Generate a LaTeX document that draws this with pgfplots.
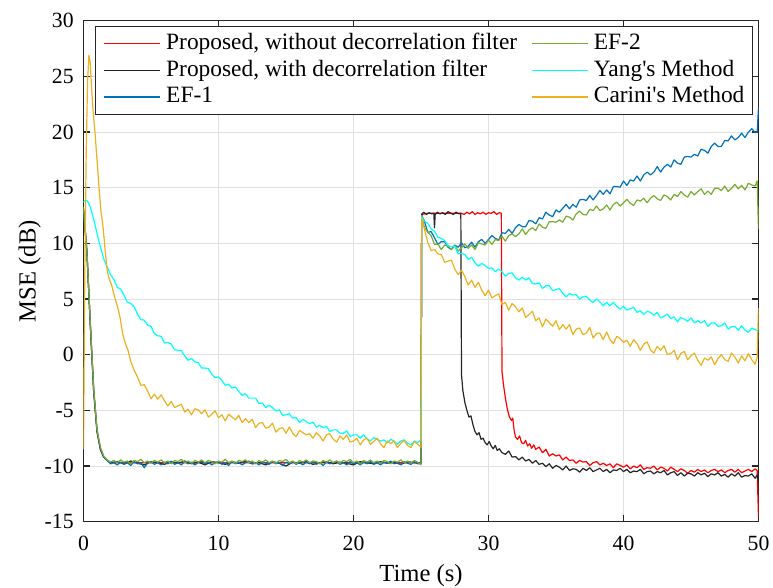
\documentclass[border=0pt]{standalone}
\usepackage{fontspec}
\setmainfont{Liberation Serif}
\usepackage{pgfplots}
\pgfplotsset{compat=1.18}
\definecolor{cred}{RGB}{255,0,0}
\definecolor{cblack}{RGB}{38,38,38}
\definecolor{cblue}{RGB}{0,114,189}
\definecolor{cgreen}{RGB}{119,172,48}
\definecolor{ccyan}{RGB}{0,255,255}
\definecolor{cyel}{RGB}{237,177,32}
\definecolor{axc}{RGB}{38,38,38}
\begin{document}
\begin{tikzpicture}
\begin{axis}[
  scale only axis, width=337.5pt, height=250.5pt,
  xmin=0, xmax=50, ymin=-15, ymax=30,
  xtick={0,10,...,50}, ytick={-15,-10,...,30},
  grid=major, grid style={black!12, line width=0.5pt},
  axis line style={axc, line width=0.6pt},
  tick align=inside, major tick length=3.4pt,
  tick style={axc, line width=0.6pt},
  xticklabel style={yshift=-3.5pt},
  yticklabel style={xshift=-1.4pt},
  /pgf/number format/assume math mode=true,
  tick label style={font=\fontsize{10.85}{13}\selectfont},
  label style={font=\fontsize{12.3}{14}\selectfont},
  xlabel={Time (s)}, ylabel={MSE (dB)},
  ylabel style={yshift=-5pt},
  every axis plot/.append style={line width=0.6pt, line join=round},
  legend columns=2,
  legend image code/.code={\draw[#1, line width=0.6pt] (0pt,0pt) -- (28pt,0pt);},
  legend style={at={(rel axis cs:1,1)}, anchor=north east, xshift=-2.9pt, yshift=-2.65pt,
    draw=axc, line width=0.5pt, fill=white, inner xsep=3.9pt, inner ysep=2pt,
    font=\fontsize{11.7}{14}\selectfont,
    nodes={inner xsep=0pt, inner ysep=1.2pt, text height=8.3pt, text depth=2.6pt, anchor=west},
    /tikz/every odd column/.append style={column sep=2.8pt},
    /tikz/every even column/.append style={column sep=7pt}},
]
% Proposed, without decorrelation filter
\addplot[cred, forget plot] coordinates {(0,13.0) (0.25,9.3) (0.5,2.8) (0.75,-3.2) (1.0,-6.9) (1.25,-8.5) (1.5,-9.2) (1.75,-9.5) (2,-9.7) (25,-9.7)
(25.05,12.6) (25.5,12.7) (26,12.7) (27,12.7) (27.9,12.7)
(28.0,12.7) (28.2,12.6) (28.4,12.8) (28.6,12.65) (28.8,12.85) (29.0,12.6) (29.2,12.75) (29.4,12.65) (29.6,12.8) (29.8,12.6) (30.0,12.75) (30.2,12.7) (30.4,12.85) (30.6,12.6) (30.8,12.75) (30.95,12.7)
(31.0,-1.5) (31.1,-2.6) (31.25,-3.9) (31.4,-4.9) (31.55,-5.6) (31.7,-5.9) (31.8,-5.7) (31.9,-6.8) (32.0,-7.4) (32.15,-7.6) (32.3,-7.3) (32.45,-7.9) (32.6,-8.0) (32.75,-7.7) (32.9,-8.2) (33.05,-8.0) (33.2,-8.4) (33.35,-8.1) (33.5,-8.5) (33.75,-8.3) (34.0,-8.8) (34.25,-8.5) (34.5,-9.1) (34.75,-8.9) (35.0,-9.1) (35.25,-9.0) (35.5,-9.45) (35.75,-9.2) (36.0,-9.5) (36.25,-9.45) (36.5,-9.75) (36.75,-9.5) (37.0,-9.65) (37.25,-9.6) (37.5,-9.95) (37.75,-9.7) (38.0,-9.6) (38.25,-9.9) (38.5,-9.75) (38.75,-9.95) (39.0,-9.8) (39.25,-10.15) (39.5,-9.8) (39.75,-9.95) (40.0,-10.1) (40.25,-9.9) (40.5,-10.25) (40.75,-10.0) (41.0,-10.15) (41.25,-9.9) (41.5,-10.3) (41.75,-10.15) (42.0,-10.2) (42.25,-10.0) (42.5,-10.35) (42.75,-10.1) (43.0,-10.2) (43.25,-10.45) (43.5,-10.1) (43.75,-10.3) (44.0,-10.5) (44.25,-10.25) (44.5,-10.4) (44.75,-10.65) (45.0,-10.4) (45.25,-10.55) (45.5,-10.3) (45.75,-10.5) (46.0,-10.35) (46.25,-10.6) (46.5,-10.4) (46.75,-10.3) (47.0,-10.5) (47.25,-10.35) (47.5,-10.6) (47.75,-10.4) (48.0,-10.3) (48.25,-10.55) (48.5,-10.3) (48.75,-10.6) (49.0,-10.45) (49.25,-10.3) (49.5,-10.5) (49.75,-10.25) (49.9,-10.4) (50,-14.6)};
% Proposed, with decorrelation filter
\addplot[cblack, forget plot] coordinates {(0,13.0) (0.25,9.3) (0.5,2.8) (0.75,-3.2) (1.0,-6.9) (1.25,-8.5) (1.5,-9.2) (1.75,-9.5) (2.0,-9.7)
(2.5,-9.6) (3,-9.8) (3.5,-9.55) (4,-9.75) (4.5,-9.9) (5,-9.6) (5.5,-9.7) (6,-9.85) (6.5,-9.6) (7,-9.75) (7.5,-9.55) (8,-9.8) (8.5,-9.65) (9,-9.9) (9.5,-9.6) (10,-9.7) (10.5,-9.85) (11,-9.6) (11.5,-9.75) (12,-9.55) (12.5,-9.8) (13,-9.7) (13.5,-9.9) (14,-9.6) (14.5,-9.75) (15,-10.0) (15.5,-9.65) (16,-9.75) (16.5,-9.6) (17,-9.85) (17.5,-9.7) (18,-9.6) (18.5,-9.8) (19,-9.65) (19.5,-9.75) (20,-9.9) (20.5,-9.6) (21,-9.7) (21.5,-9.8) (22,-9.6) (22.5,-9.75) (23,-9.65) (23.5,-9.85) (24,-9.6) (24.5,-9.7) (25.0,-9.75)
(25.05,12.6) (25.2,12.8) (25.4,12.6) (25.6,12.75) (25.8,12.65) (25.95,12.7) (26.0,11.4) (26.05,12.6) (26.2,12.8) (26.4,12.65) (26.6,12.75) (26.8,12.6) (27.0,12.85) (27.2,12.7) (27.4,12.6) (27.6,12.8) (27.8,12.65) (27.95,12.7)
(28.0,-1.8) (28.1,-3.2) (28.25,-4.3) (28.4,-5.0) (28.55,-5.6) (28.7,-5.5) (28.85,-6.3) (29.0,-6.9) (29.15,-7.2) (29.3,-7.0) (29.45,-7.6) (29.6,-7.5) (29.75,-7.9) (29.9,-8.1) (30.05,-7.8) (30.2,-8.2) (30.35,-8.45) (30.5,-8.15) (30.65,-8.6) (30.8,-8.45) (31.0,-8.8) (31.25,-8.95) (31.5,-8.65) (31.75,-9.2) (32.0,-9.15) (32.25,-9.45) (32.5,-9.2) (32.75,-9.55) (33.0,-9.4) (33.25,-9.75) (33.5,-9.5) (33.75,-9.85) (34.0,-9.75) (34.25,-10.05) (34.5,-9.8) (34.75,-10.2) (35.0,-9.95) (35.25,-10.1) (35.5,-10.35) (35.75,-10.0) (36.0,-10.4) (36.25,-10.25) (36.5,-10.3) (36.75,-10.55) (37.0,-10.2) (37.25,-10.4) (37.5,-10.15) (37.75,-10.5) (38.0,-10.35) (38.25,-10.2) (38.5,-10.5) (38.75,-10.3) (39.0,-10.6) (39.25,-10.35) (39.5,-10.4) (39.75,-10.2) (40.0,-10.5) (40.25,-10.3) (40.5,-10.6) (40.75,-10.45) (41.0,-10.5) (41.25,-10.3) (41.5,-10.7) (41.75,-10.5) (42.0,-10.45) (42.25,-10.7) (42.5,-10.5) (42.75,-10.6) (43.0,-10.4) (43.25,-10.8) (43.5,-10.6) (43.75,-10.5) (44.0,-10.85) (44.25,-10.6) (44.5,-10.9) (44.75,-10.65) (45.0,-10.7) (45.25,-10.9) (45.5,-10.6) (45.75,-10.8) (46.0,-10.65) (46.25,-10.95) (46.5,-10.7) (46.75,-10.8) (47.0,-10.6) (47.25,-10.9) (47.5,-10.75) (47.75,-11.0) (48.0,-10.7) (48.25,-10.9) (48.5,-10.6) (48.75,-11.0) (49.0,-10.85) (49.25,-10.9) (49.5,-10.7) (49.75,-11.1) (49.9,-10.8) (50,-11.5)};
% EF-1
\addplot[cblue, forget plot] coordinates {(0,13.1) (0.25,9.2) (0.5,2.9) (0.75,-3.0) (1.0,-6.8) (1.25,-8.4) (1.5,-9.2) (1.75,-9.5) (2.0,-9.8)
(2.25,-9.7) (2.5,-9.9) (2.75,-9.65) (3.0,-9.85) (3.25,-9.7) (3.5,-9.95) (3.75,-9.6) (4.0,-9.8) (4.25,-9.7) (4.5,-10.15) (4.75,-9.75) (5.0,-9.6) (5.25,-9.85) (5.5,-9.7) (5.75,-9.9) (6.0,-9.65) (6.25,-9.8) (6.5,-9.55) (6.75,-9.85) (7.0,-9.7) (7.25,-9.9) (7.5,-9.6) (7.75,-9.8) (8.0,-9.65) (8.25,-9.9) (8.5,-9.7) (8.75,-9.55) (9.0,-9.8) (9.25,-9.65) (9.5,-9.9) (9.75,-9.7) (10.0,-9.6) (10.25,-9.85) (10.5,-9.7) (10.75,-9.95) (11.0,-9.6) (11.25,-9.8) (11.5,-9.65) (11.75,-9.9) (12.0,-9.7) (12.25,-9.55) (12.5,-9.8) (12.75,-9.7) (13.0,-9.9) (13.25,-9.6) (13.5,-9.75) (13.75,-9.85) (14.0,-9.6) (14.25,-9.8) (14.5,-9.7) (14.75,-9.95) (15.0,-9.65) (15.25,-9.8) (15.5,-9.6) (15.75,-9.85) (16.0,-9.7) (16.25,-9.9) (16.5,-9.65) (16.75,-9.8) (17.0,-9.6) (17.25,-9.85) (17.5,-9.7) (17.75,-9.95) (18.0,-9.65) (18.25,-9.8) (18.5,-9.7) (18.75,-9.55) (19.0,-9.85) (19.25,-9.7) (19.5,-9.9) (19.75,-9.6) (20.0,-9.8) (20.25,-9.7) (20.5,-9.9) (20.75,-9.65) (21.0,-9.8) (21.25,-9.6) (21.5,-9.85) (21.75,-9.7) (22.0,-9.9) (22.25,-9.65) (22.5,-9.75) (22.75,-9.55) (23.0,-9.8) (23.25,-9.7) (23.5,-9.9) (23.75,-9.6) (24.0,-9.75) (24.25,-9.85) (24.5,-9.6) (24.75,-9.8) (25.0,-9.75)
(25.05,12.5) (25.25,12.0) (25.5,11.0) (25.75,11.05) (26.0,10.5) (26.25,9.9) (26.5,10.15) (26.75,10.15) (27.0,9.65) (27.25,9.45) (27.5,9.85) (27.75,9.65) (28.0,10.05) (28.25,9.6) (28.5,9.75) (28.75,10.1) (29.0,9.65) (29.25,10.15) (29.5,10.35) (29.75,10.0) (30.0,10.35) (30.25,10.7) (30.5,10.45) (30.75,10.3) (31.0,10.95) (31.25,10.9) (31.5,11.25) (31.75,10.9) (32.0,11.4) (32.25,11.7) (32.5,11.5) (32.75,11.5) (33.0,12.05) (33.25,12.0) (33.5,11.75) (33.75,12.3) (34.0,12.2) (34.25,12.8) (34.5,12.55) (34.75,12.4) (35.0,13.0) (35.25,12.8) (35.5,13.15) (35.75,13.5) (36.0,13.1) (36.25,13.5) (36.5,13.25) (36.75,13.9) (37.0,13.95) (37.25,13.85) (37.5,14.3) (37.75,13.9) (38.0,14.3) (38.25,14.75) (38.5,14.4) (38.75,14.8) (39.0,14.45) (39.25,15.1) (39.5,15.1) (39.75,15.05) (40.0,15.6) (40.25,15.2) (40.5,15.7) (40.75,15.6) (41.0,16.05) (41.25,15.6) (41.5,16.15) (41.75,16.4) (42.0,16.15) (42.25,16.4) (42.5,16.9) (42.75,16.4) (43.0,16.85) (43.25,17.1) (43.5,16.85) (43.75,17.5) (44.0,17.2) (44.25,17.1) (44.5,17.75) (44.75,17.8) (45.0,17.75) (45.25,18.0) (45.5,17.85) (45.75,18.45) (46.0,18.35) (46.25,18.1) (46.5,18.7) (46.75,19.0) (47.0,18.7) (47.25,18.7) (47.5,19.25) (47.75,19.2) (48.0,19.65) (48.25,19.3) (48.5,19.5) (48.75,19.9) (49.0,19.5) (49.25,20.0) (49.5,20.3) (49.75,19.95) (49.9,20.0) (50,22.2)};
% EF-2
\addplot[cgreen, forget plot] coordinates {(0,13.3) (0.25,9.4) (0.5,3.0) (0.75,-2.9) (1.0,-6.7) (1.25,-8.3) (1.5,-9.1) (1.75,-9.45) (2.0,-9.65)
(2.25,-9.5) (2.5,-9.7) (2.75,-9.45) (3.0,-9.65) (3.25,-9.55) (3.5,-9.8) (3.75,-9.5) (4.0,-9.6) (4.25,-9.4) (4.5,-9.7) (4.75,-9.55) (5.0,-9.75) (5.25,-9.5) (5.5,-9.65) (5.75,-9.45) (6.0,-9.7) (6.25,-9.55) (6.5,-9.8) (6.75,-9.5) (7.0,-9.6) (7.25,-9.4) (7.5,-9.7) (7.75,-9.55) (8.0,-9.75) (8.25,-9.5) (8.5,-9.65) (8.75,-9.45) (9.0,-9.7) (9.25,-9.5) (9.5,-9.6) (9.75,-9.8) (10.0,-9.55) (10.25,-9.65) (10.5,-9.4) (10.75,-9.7) (11.0,-9.55) (11.25,-9.75) (11.5,-9.5) (11.75,-9.6) (12.0,-9.45) (12.25,-9.7) (12.5,-9.55) (12.75,-9.8) (13.0,-9.5) (13.25,-9.65) (13.5,-9.45) (13.75,-9.7) (14.0,-9.55) (14.25,-9.75) (14.5,-9.5) (14.75,-9.6) (15.0,-9.4) (15.25,-9.7) (15.5,-9.55) (15.75,-9.8) (16.0,-9.5) (16.25,-9.65) (16.5,-9.45) (16.75,-9.7) (17.0,-9.55) (17.25,-9.6) (17.5,-9.8) (17.75,-9.5) (18.0,-9.65) (18.25,-9.45) (18.5,-9.7) (18.75,-9.55) (19.0,-9.75) (19.25,-9.5) (19.5,-9.6) (19.75,-9.4) (20.0,-9.7) (20.25,-9.55) (20.5,-9.8) (20.75,-9.5) (21.0,-9.65) (21.25,-9.45) (21.5,-9.7) (21.75,-9.55) (22.0,-9.75) (22.25,-9.5) (22.5,-9.6) (22.75,-9.8) (23.0,-9.55) (23.25,-9.65) (23.5,-9.45) (23.75,-9.7) (24.0,-9.55) (24.25,-9.75) (24.5,-9.5) (24.75,-9.65) (25.0,-9.9)
(25.05,12.5) (25.25,11.45) (25.5,11.0) (25.75,10.7) (26.0,9.9) (26.25,9.95) (26.5,9.45) (26.75,9.85) (27.0,9.75) (27.25,9.45) (27.5,9.8) (27.75,9.3) (28.0,9.6) (28.25,9.95) (28.5,9.55) (28.75,9.85) (29.0,9.45) (29.25,10.05) (29.5,9.95) (29.75,9.85) (30.0,10.3) (30.25,9.9) (30.5,10.35) (30.75,10.25) (31.0,10.65) (31.25,10.2) (31.5,10.7) (31.75,10.85) (32.0,10.6) (32.25,10.85) (32.5,11.3) (32.75,10.8) (33.0,11.2) (33.25,11.4) (33.5,11.15) (33.75,11.75) (34.0,11.45) (34.25,11.35) (34.5,11.95) (34.75,11.95) (35.0,11.9) (35.25,12.1) (35.5,11.9) (35.75,12.45) (36.0,12.35) (36.25,12.1) (36.5,12.65) (36.75,12.9) (37.0,12.6) (37.25,12.55) (37.5,13.05) (37.75,12.95) (38.0,13.35) (38.25,12.95) (38.5,13.1) (38.75,13.45) (39.0,13.0) (39.25,13.5) (39.5,13.7) (39.75,13.35) (40.0,13.65) (40.25,13.95) (40.5,13.6) (40.75,13.4) (41.0,13.9) (41.25,13.8) (41.5,14.05) (41.75,13.65) (42.0,14.05) (42.25,14.3) (42.5,14.0) (42.75,13.85) (43.0,14.35) (43.25,14.2) (43.5,13.9) (43.75,14.4) (44.0,14.2) (44.25,14.65) (44.5,14.35) (44.75,14.15) (45.0,14.65) (45.25,14.35) (45.5,14.65) (45.75,14.9) (46.0,14.4) (46.25,14.7) (46.5,14.4) (46.75,14.95) (47.0,14.95) (47.25,14.75) (47.5,15.15) (47.75,14.65) (48.0,14.95) (48.25,15.3) (48.5,14.9) (48.75,15.2) (49.0,14.8) (49.25,15.4) (49.5,15.25) (49.75,15.15) (49.9,15.6) (50,11.3)};
% Yang's Method
\addplot[ccyan, forget plot] coordinates {(0,13.7) (0.15,13.9) (0.3,13.8) (0.5,13.3) (0.75,12.2) (1.0,10.9) (1.25,9.7) (1.5,8.6) (1.75,7.9) (2.0,7.2)
(2.25,6.75) (2.5,6.05) (2.75,5.9) (3.0,5.35) (3.25,4.7) (3.5,4.6) (3.75,4.3) (4.0,3.65) (4.25,3.15) (4.5,3.1) (4.75,2.65) (5.0,2.55) (5.25,1.9) (5.5,1.7) (5.75,1.65) (6.0,1.05) (6.25,1.1) (6.5,0.95) (6.75,0.45) (7.0,0.4) (7.25,0.35) (7.5,-0.1) (7.75,-0.5) (8.0,-0.35) (8.25,-0.65) (8.5,-0.7) (8.75,-1.2) (9.0,-1.2) (9.25,-1.25) (9.5,-1.75) (9.75,-2.05) (10.0,-2.0) (10.25,-2.3) (10.5,-2.75) (10.75,-2.65) (11.0,-3.0) (11.25,-2.9) (11.5,-3.3) (11.75,-3.65) (12.0,-3.5) (12.25,-3.9) (12.5,-3.9) (12.75,-3.9) (13.0,-4.4) (13.25,-4.35) (13.5,-4.75) (13.75,-4.55) (14.0,-4.75) (14.25,-5.05) (14.5,-4.95) (14.75,-5.45) (15.0,-5.4) (15.25,-5.3) (15.5,-5.7) (15.75,-5.65) (16.0,-6.1) (16.25,-5.8) (16.5,-6.0) (16.75,-6.2) (17.0,-6.05) (17.25,-6.5) (17.5,-6.35) (17.75,-6.55) (18.0,-6.45) (18.25,-6.9) (18.5,-6.75) (18.75,-6.75) (19.0,-7.05) (19.25,-7.05) (19.5,-6.85) (19.75,-7.35) (20.0,-7.2) (20.25,-7.2) (20.5,-7.5) (20.75,-7.2) (21.0,-7.55) (21.25,-7.75) (21.5,-7.45) (21.75,-7.6) (22.0,-7.75) (22.25,-7.65) (22.5,-7.9) (22.75,-7.6) (23.0,-7.75) (23.25,-8.05) (23.5,-7.75) (23.75,-7.65) (24.0,-7.95) (24.25,-8.1) (24.5,-7.75) (24.75,-7.9) (25.0,-7.65)
(25.05,12.4) (25.25,12.0) (25.5,11.8) (25.75,11.3) (26.0,11.1) (26.25,10.55) (26.5,10.45) (26.75,10.25) (27.0,9.8) (27.25,9.7) (27.5,9.75) (27.75,9.05) (28.0,9.1) (28.25,9.0) (28.5,8.55) (28.75,8.75) (29.0,8.25) (29.25,7.95) (29.5,8.2) (29.75,8.0) (30.0,7.75) (30.25,7.8) (30.5,7.45) (30.75,7.7) (31.0,7.45) (31.25,7.05) (31.5,7.3) (31.75,7.35) (32.0,6.9) (32.25,6.7) (32.5,6.95) (32.75,6.7) (33.0,6.9) (33.25,6.4) (33.5,6.35) (33.75,6.45) (34.0,5.95) (34.25,6.2) (34.5,6.2) (34.75,5.75) (35.0,5.85) (35.25,5.95) (35.5,5.5) (35.75,5.2) (36.0,5.5) (36.25,5.35) (36.5,5.4) (36.75,5.0) (37.0,5.2) (37.25,5.25) (37.5,4.9) (37.75,4.7) (38.0,5.0) (38.25,4.75) (38.5,4.4) (38.75,4.7) (39.0,4.4) (39.25,4.7) (39.5,4.35) (39.75,4.1) (40.0,4.35) (40.25,4.0) (40.5,4.15) (40.75,4.25) (41.0,3.8) (41.25,3.95) (41.5,3.6) (41.75,3.9) (42.0,3.8) (42.25,3.55) (42.5,3.8) (42.75,3.3) (43.0,3.45) (43.25,3.65) (43.5,3.25) (43.75,3.4) (44.0,2.95) (44.25,3.35) (44.5,3.2) (44.75,3.0) (45.0,3.3) (45.25,2.85) (45.5,3.05) (45.75,2.85) (46.0,3.05) (46.25,2.55) (46.5,2.85) (46.75,2.85) (47.0,2.55) (47.25,2.6) (47.5,2.85) (47.75,2.3) (48.0,2.5) (48.25,2.55) (48.5,2.2) (48.75,2.6) (49.0,2.2) (49.25,2.0) (49.5,2.4) (49.75,2.25) (50,2.1)};
% Carini's Method
\addplot[cyel, forget plot] coordinates {(0,-8.5) (0.1,8) (0.2,18) (0.3,24.5) (0.4,26.9) (0.5,26.2) (0.6,24.0) (0.7,22.0) (0.85,20.0) (1.0,17.5) (1.15,15.0) (1.3,12.8) (1.45,11.5) (1.6,9.4) (1.75,7.6) (1.9,6.8) (2.1,6.2) (2.3,5.2) (2.5,4.4) (2.7,3.4) (2.9,1.9) (3.1,1.0) (3.3,0.4) (3.5,-0.6) (3.75,-1.4) (4.0,-2.0)
(4.25,-2.75) (4.5,-2.7) (4.75,-3.25) (5.0,-3.95) (5.25,-3.55) (5.5,-4.0) (5.75,-3.6) (6.0,-4.15) (6.25,-4.6) (6.5,-4.2) (6.75,-4.75) (7.0,-4.6) (7.25,-4.45) (7.5,-5.15) (7.75,-4.9) (8.0,-5.4) (8.25,-4.85) (8.5,-4.95) (8.75,-5.3) (9.0,-4.95) (9.25,-5.6) (9.5,-5.35) (9.75,-5.05) (10.0,-5.65) (10.25,-5.4) (10.5,-5.95) (10.75,-5.35) (11.0,-5.6) (11.25,-5.85) (11.5,-5.45) (11.75,-6.1) (12.0,-5.75) (12.25,-6.1) (12.5,-5.8) (12.75,-6.55) (13.0,-6.15) (13.25,-6.1) (13.5,-6.6) (13.75,-6.5) (14.0,-6.15) (14.25,-6.95) (14.5,-6.65) (14.75,-6.55) (15.0,-7.05) (15.25,-6.5) (15.5,-7.05) (15.75,-7.35) (16.0,-6.8) (16.25,-7.0) (16.5,-7.2) (16.75,-7.1) (17.0,-7.5) (17.25,-7.0) (17.5,-7.3) (17.75,-7.75) (18.0,-7.2) (18.25,-7.1) (18.5,-7.6) (18.75,-7.85) (19.0,-7.3) (19.25,-7.6) (19.5,-7.2) (19.75,-7.85) (20.0,-7.75) (20.25,-7.5) (20.5,-8.1) (20.75,-7.65) (21.0,-7.5) (21.25,-8.05) (21.5,-7.8) (21.75,-7.5) (22.0,-8.0) (22.25,-8.35) (22.5,-7.75) (22.75,-8.0) (23.0,-7.75) (23.25,-8.35) (23.5,-7.95) (23.75,-7.7) (24.0,-8.15) (24.25,-8.35) (24.5,-7.8) (24.75,-8.05) (25.0,-8.3)
(25.05,12.3) (25.25,11.3) (25.5,10.1) (25.75,9.35) (26.0,9.45) (26.25,9.05) (26.5,9.0) (26.75,8.3) (27.0,8.4) (27.25,8.5) (27.5,7.7) (27.75,7.2) (28.0,7.6) (28.25,7.0) (28.5,6.25) (28.75,6.7) (29.0,6.05) (29.25,6.5) (29.5,5.8) (29.75,5.3) (30.0,5.8) (30.25,5.1) (30.5,5.3) (30.75,5.45) (31.0,4.5) (31.25,4.7) (31.5,4.0) (31.75,4.6) (32.0,4.3) (32.25,3.85) (32.5,4.2) (32.75,3.35) (33.0,3.6) (33.25,3.9) (33.5,3.05) (33.75,3.3) (34.0,2.5) (34.25,3.2) (34.5,2.9) (34.75,2.55) (35.0,3.05) (35.25,2.25) (35.5,2.7) (35.75,2.3) (36.0,2.7) (36.25,1.8) (36.5,2.3) (36.75,2.4) (37.0,1.8) (37.25,1.95) (37.5,2.45) (37.75,1.5) (38.0,1.9) (38.25,1.95) (38.5,1.35) (38.75,2.05) (39.0,1.35) (39.25,1.0) (39.5,1.65) (39.75,1.45) (40.0,1.1) (40.25,1.3) (40.5,0.75) (40.75,1.35) (41.0,1.0) (41.25,0.4) (41.5,0.95) (41.75,1.15) (42.0,0.45) (42.25,0.15) (42.5,0.75) (42.75,0.4) (43.0,0.8) (43.25,0.0) (43.5,0.1) (43.75,0.4) (44.0,-0.45) (44.25,0.1) (44.5,0.3) (44.75,-0.45) (45.0,-0.1) (45.25,0.15) (45.5,-0.5) (45.75,-0.95) (46.0,-0.3) (46.25,-0.5) (46.5,-0.2) (46.75,-0.9) (47.0,-0.35) (47.25,0.0) (47.5,-0.45) (47.75,-0.6) (48.0,0.15) (48.25,-0.2) (48.5,-0.75) (48.75,-0.1) (49.0,-0.55) (49.25,0.1) (49.5,-0.45) (49.75,-0.85) (49.9,-0.2) (50,4.2)};
% legend, filled row by row
\addlegendimage{cred}
\addlegendentry{Proposed, without decorrelation filter}
\addlegendimage{cgreen}
\addlegendentry{EF-2}
\addlegendimage{cblack}
\addlegendentry{Proposed, with decorrelation filter}
\addlegendimage{ccyan}
\addlegendentry{Yang\textquotesingle s Method}
\addlegendimage{cblue}
\addlegendentry{EF-1}
\addlegendimage{cyel}
\addlegendentry{Carini\textquotesingle s Method}
\coordinate (bl) at (rel axis cs:0,0);
\coordinate (tr) at (rel axis cs:1,1);
\end{axis}
\pgfresetboundingbox
\path[use as bounding box] ([shift={(-41.75pt,-32.65pt)}]bl) rectangle ([shift={(7.25pt,10.35pt)}]tr);
\end{tikzpicture}
\end{document}
